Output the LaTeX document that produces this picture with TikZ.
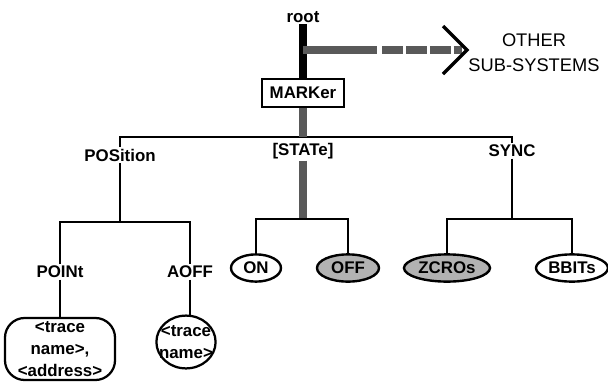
\documentclass[tikz,border=0pt]{standalone}
\usepackage{fontspec}
\setmainfont{Liberation Sans}
\usetikzlibrary{arrows.meta, positioning, shapes.geometric, calc}

\tikzset{
  lbl/.style={font=\fontsize{12}{14}\selectfont\bfseries, inner sep=1pt},
  conn/.style={line width=1.6pt, black},
  hatch/.style={line width=5pt, black!65},
  oval/.style={draw, ellipse, line width=1.7pt, inner sep=0pt, minimum height=0.68cm,
    font=\fontsize{12}{14}\selectfont\bfseries},
  shadedoval/.style={oval, fill=black!30},
}

\begin{document}
\begin{tikzpicture}[x=0.025cm, y=-0.025cm]
  \useasboundingbox (0,0) rectangle (608,390);
  % top: root and the other sub-systems
  \node[lbl] (root) at (303,17) {root};
  \node[draw, line width=1.6pt, minimum width=2.05cm, minimum height=0.7cm, lbl] (marker) at (303,93) {MARKer};
  \draw[line width=5.5pt] (root.south) -- (marker.north);
  \coordinate (jarrow) at (303,50);
  \coordinate (tip) at (467,50);
  \draw[hatch] (jarrow) -- ++(74,0);
  \draw[hatch, dash pattern=on 15pt off 2pt] (382,50) -- ($(tip)+(-5,0)$);
  \draw[line width=2.4pt, line join=miter] ($(tip)+(-24,-24)$) -- (tip) -- ($(tip)+(-24,24)$);
  \node[font=\fontsize{13}{17.5}\selectfont, align=center] (other) at (534,53) {OTHER\\SUB-SYSTEMS};

  % second level
  \node[lbl] (pos) at (120,155) {POSition};
  \node[lbl] (state) at (303,151) {[STATe]};
  \node[lbl] (sync) at (512,151) {SYNC};
  \coordinate (jmain) at (303,137);
  \draw[conn] (pos.north) |- (jmain) -| (sync.north);
  \draw[hatch] (marker.south) -- (jmain);

  % third level
  \node[lbl] (point) at (60,272) {POINt};
  \node[lbl] (aoff) at (190,272) {AOFF};
  \node[oval, minimum width=1.25cm] (on) at (256,268) {ON};
  \node[shadedoval, minimum width=1.55cm] (off) at (348,268) {OFF};
  \node[shadedoval, minimum width=2.15cm] (zcros) at (447,268) {ZCROs};
  \node[oval, minimum width=1.8cm] (bbits) at (572,268) {BBITs};

  \coordinate (jpos) at (120,222);
  \coordinate (jstate) at (303,219);
  \coordinate (jsync) at (512,219);
  \draw[conn] (pos.south) -- (jpos);
  \draw[conn] (point.north) |- (jpos) -| (aoff.north);
  \draw[hatch] (state.south) -- (jstate);
  \draw[conn] (on.north) |- (jstate) -| (off.north);
  \draw[conn] (sync.south) -- (jsync);
  \draw[conn] (zcros.north) |- (jsync) -| (bbits.north);

  % parameters
  \node[draw, rounded corners=14pt, line width=1.6pt, minimum width=2.75cm, minimum height=1.55cm,
    align=center, inner sep=0pt, font=\fontsize{12}{15.5}\selectfont\bfseries] (addr) at (60,349)
    {<trace\\name>,\\<address>};
  \node[align=center, inner sep=0pt, font=\fontsize{12}{15.5}\selectfont\bfseries] (tname) at (186,342)
    {<trace\\name>};
  \draw[line width=1.6pt] (tname) ellipse [x radius=0.74cm, y radius=0.66cm];
  \coordinate (tnametop) at ($(tname)+(0,-26.5)$);
  \draw[conn] (point.south) -- (point.south |- addr.north);
  \draw[conn] (aoff.south) -- (aoff.south |- tnametop);
\end{tikzpicture}
\end{document}
